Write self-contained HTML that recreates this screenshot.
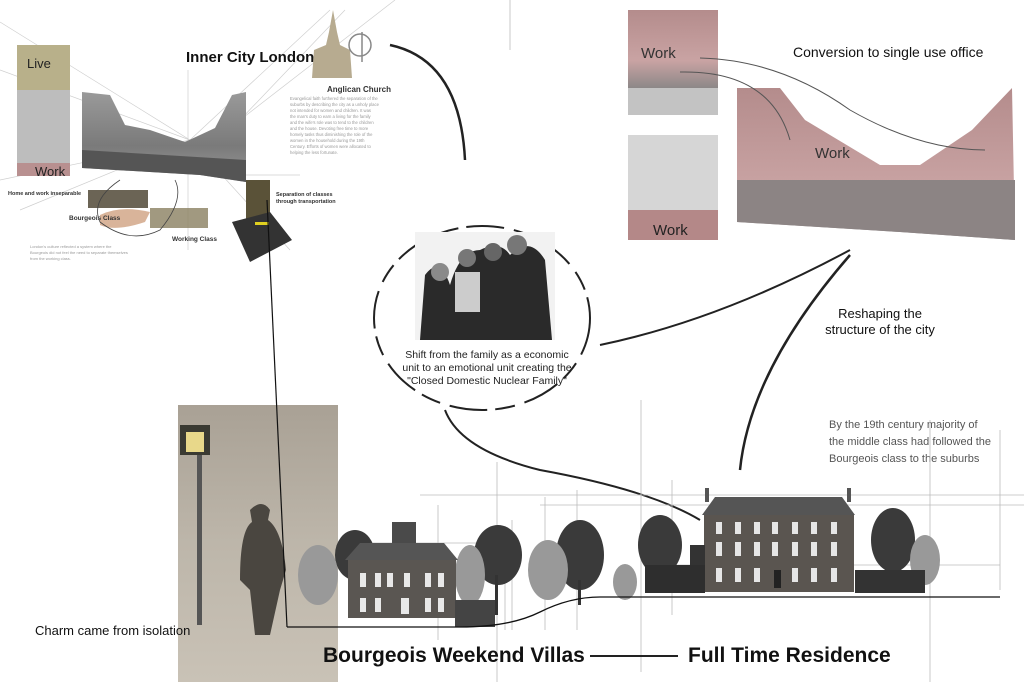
<!DOCTYPE html>
<html><head><meta charset="utf-8"><style>
html,body{margin:0;padding:0;background:#fff;width:1024px;height:682px;overflow:hidden}
svg{display:block}
text{font-family:"Liberation Sans",sans-serif}
</style></head><body>
<svg width="1024" height="682" viewBox="0 0 1024 682" xmlns="http://www.w3.org/2000/svg">
<defs>
<linearGradient id="fog" x1="0" y1="0" x2="0" y2="1"><stop offset="0" stop-color="#a9a195"/><stop offset="0.5" stop-color="#bdb6aa"/><stop offset="1" stop-color="#c9c2b6"/></linearGradient>
<linearGradient id="street" x1="0" y1="0" x2="0" y2="1"><stop offset="0" stop-color="#9a9a9a"/><stop offset="0.6" stop-color="#7a7a7a"/><stop offset="1" stop-color="#9a9a9a"/></linearGradient>
<linearGradient id="pink" x1="0" y1="0" x2="0" y2="1"><stop offset="0" stop-color="#b48c8c"/><stop offset="0.65" stop-color="#c9a3a3"/><stop offset="1" stop-color="#8c8888"/></linearGradient>
</defs>
<g stroke="#cfcfcf" stroke-width="0.7" fill="none">
<line x1="0" y1="22" x2="190" y2="140"/><line x1="0" y1="70" x2="190" y2="140"/><line x1="0" y1="180" x2="190" y2="140"/>
<line x1="330" y1="10" x2="190" y2="140"/><line x1="345" y1="10" x2="240" y2="120"/><line x1="190" y1="140" x2="290" y2="250"/>
<line x1="188" y1="70" x2="188" y2="250"/><line x1="240" y1="175" x2="300" y2="175"/>
<line x1="20" y1="210" x2="190" y2="140"/><line x1="395" y1="0" x2="240" y2="120"/>
</g>
<rect x="17" y="45" width="53" height="45" fill="#b8b08a"/>
<rect x="17" y="90" width="53" height="75" fill="#bdbdbd"/>
<rect x="17" y="163" width="53" height="13" fill="#b89090"/>
<text x="27" y="68" font-size="13" fill="#222">Live</text>
<text x="35" y="176" font-size="13" fill="#222">Work</text>
<path d="M82 92 L110 95 L125 125 L150 130 L185 142 L215 128 L232 95 L246 92 L246 182 L200 175 L150 172 L82 168Z" fill="url(#street)"/>
<path d="M82 150 L246 160 L246 182 L200 175 L150 172 L82 168Z" fill="#555"/>
<text x="186" y="62" font-size="15" font-weight="bold" fill="#111">Inner City London</text>
<path d="M333 10 L337 32 L340 45 L350 50 L352 78 L312 78 L314 50 L326 45 L329 32Z" fill="#b7ab90"/>
<circle cx="360" cy="45" r="11" fill="none" stroke="#888" stroke-width="1.5"/><line x1="362" y1="32" x2="362" y2="62" stroke="#888" stroke-width="1.5"/>
<text x="327" y="92" font-size="8" font-weight="bold" fill="#333">Anglican Church</text>
<g font-size="4.2" fill="#999"><text x="290" y="100">Evangelical faith furthered the separation of the</text><text x="290" y="106">suburbs by describing the city as a unholy place</text><text x="290" y="112">not intended for women and children. It was</text><text x="290" y="118">the man's duty to earn a living for the family</text><text x="290" y="124">and the wife's role was to tend to the children</text><text x="290" y="130">and the house. Devoting free time to more</text><text x="290" y="136">homely tasks thus diminishing the role of the</text><text x="290" y="142">women in the household during the 19th</text><text x="290" y="148">Century. Efforts of women were allocated to</text><text x="290" y="154">helping the less fortunate.</text></g>
<text x="8" y="195" font-size="5.5" font-weight="bold" fill="#333">Home and work inseparable</text>
<rect x="88" y="190" width="60" height="18" fill="#6b6455"/>
<path d="M100 215 Q120 205 150 212 L145 222 Q115 232 100 225Z" fill="#d9b49a"/>
<text x="69" y="220" font-size="6.5" font-weight="bold" fill="#333">Bourgeois Class</text>
<rect x="150" y="208" width="58" height="20" fill="#8a8060" opacity="0.8"/>
<text x="172" y="241" font-size="6.5" font-weight="bold" fill="#333">Working Class</text>
<g font-size="4" fill="#999"><text x="30" y="248">London's culture reflected a system where the</text><text x="30" y="254">Bourgeois did not feel the need to separate themselves</text><text x="30" y="260">from the working class.</text></g>
<rect x="246" y="180" width="24" height="40" fill="#5a5238"/>
<path d="M232 222 L270 212 L292 240 L250 262Z" fill="#333"/>
<rect x="255" y="222" width="14" height="3" fill="#e0d020"/>
<text x="276" y="196" font-size="5.5" font-weight="bold" fill="#333">Separation of classes</text>
<text x="276" y="203" font-size="5.5" font-weight="bold" fill="#333">through transportation</text>
<path d="M120 180 Q90 200 100 222 Q130 245 160 230 Q185 200 175 180" fill="none" stroke="#444" stroke-width="0.8"/>
<rect x="628" y="10" width="90" height="78" fill="url(#pink)"/>
<rect x="628" y="88" width="90" height="27" fill="#aaa" opacity="0.7"/>
<text x="641" y="58" font-size="15" fill="#333">Work</text>
<rect x="628" y="135" width="90" height="75" fill="#d6d6d6"/>
<rect x="628" y="210" width="90" height="30" fill="#b48888"/>
<text x="653" y="235" font-size="15" fill="#222">Work</text>
<path d="M737 88 L780 88 L805 120 L880 165 L920 165 L972 130 L1012 88 L1015 240 L900 232 L737 222Z" fill="url(#pink)"/>
<path d="M737 180 L1015 180 L1015 240 L900 232 L737 222Z" fill="#8c8484"/>
<text x="815" y="158" font-size="15" fill="#333">Work</text>
<path d="M700 58 Q780 60 850 110 Q920 150 985 150" fill="none" stroke="#555" stroke-width="1"/>
<path d="M680 72 Q770 70 790 140" fill="none" stroke="#555" stroke-width="1"/>
<text x="793" y="57" font-size="14" fill="#111">Conversion to single use office</text>
<ellipse cx="482" cy="318" rx="108" ry="92" fill="none" stroke="#222" stroke-width="2" stroke-dasharray="38 10 20 8"/>
<path d="M390 45 Q460 60 465 160" fill="none" stroke="#222" stroke-width="2.5"/>
<path d="M600 345 Q720 320 850 250" fill="none" stroke="#222" stroke-width="2"/>
<path d="M850 255 Q750 370 740 470" fill="none" stroke="#222" stroke-width="2.5"/>
<path d="M445 410 Q460 450 540 470 Q650 490 700 520" fill="none" stroke="#222" stroke-width="2"/>
<rect x="415" y="232" width="140" height="108" fill="#f2f2f2"/>
<path d="M420 340 L425 275 Q440 255 450 285 Q460 250 480 250 Q500 240 510 255 Q530 235 545 260 L552 340Z" fill="#2a2a2a"/>
<circle cx="440" cy="272" r="9" fill="#8a8a8a"/><circle cx="467" cy="258" r="9" fill="#777"/><circle cx="493" cy="252" r="9" fill="#666"/><circle cx="517" cy="245" r="10" fill="#777"/>
<rect x="455" y="272" width="25" height="40" fill="#ccc"/>
<g font-size="10.5" fill="#222" text-anchor="middle"><text x="487" y="358">Shift from the family as a economic</text><text x="487" y="371">unit to an emotional unit creating the</text><text x="487" y="384">"Closed Domestic Nuclear Family"</text></g>
<text x="880" y="318" font-size="13" fill="#111" text-anchor="middle">Reshaping the</text>
<text x="880" y="334" font-size="13" fill="#111" text-anchor="middle">structure of the city</text>
<g font-size="11" fill="#555"><text x="829" y="428">By the 19th century majority of</text><text x="829" y="445">the middle class had followed the</text><text x="829" y="462">Bourgeois class to the suburbs</text></g>
<g stroke="#bbb" stroke-width="0.8">
<line x1="270" y1="543" x2="478" y2="543"/><line x1="420" y1="565" x2="478" y2="565"/>
<line x1="420" y1="495" x2="1024" y2="495"/><line x1="540" y1="505" x2="1024" y2="505"/>
<line x1="645" y1="565" x2="1000" y2="565"/>
<line x1="300" y1="462" x2="300" y2="610"/><line x1="438" y1="505" x2="438" y2="640"/>
<line x1="497" y1="462" x2="497" y2="682"/><line x1="641" y1="400" x2="641" y2="672"/>
<line x1="512" y1="520" x2="512" y2="630"/><line x1="545" y1="497" x2="545" y2="630"/>
<line x1="577" y1="490" x2="577" y2="630"/><line x1="505" y1="575" x2="505" y2="630"/>
<line x1="672" y1="480" x2="672" y2="615"/><line x1="930" y1="420" x2="930" y2="682"/>
<line x1="318" y1="470" x2="318" y2="610"/><line x1="335" y1="520" x2="335" y2="600"/>
<line x1="1000" y1="430" x2="1000" y2="590"/><line x1="510" y1="0" x2="510" y2="50"/>
</g>
<rect x="178" y="405" width="160" height="277" fill="url(#fog)"/>
<rect x="180" y="425" width="30" height="30" fill="#3a3a32"/>
<rect x="186" y="432" width="18" height="20" fill="#e8d88a"/>
<rect x="197" y="455" width="5" height="170" fill="#555"/>
<path d="M250 510 Q262 498 270 510 L268 520 Q282 530 286 570 L280 590 L270 635 L255 635 L250 590 L240 580 Q240 530 252 522Z" fill="#4a4640"/>
<text x="35" y="635" font-size="13" fill="#111">Charm came from isolation</text>
<line x1="267" y1="200" x2="287" y2="627" stroke="#111" stroke-width="1.2"/>
<g fill="#3a3a3a">
<ellipse cx="355" cy="555" rx="20" ry="25"/><ellipse cx="498" cy="555" rx="24" ry="30"/><ellipse cx="580" cy="555" rx="24" ry="35"/><ellipse cx="660" cy="545" rx="22" ry="30"/><ellipse cx="893" cy="540" rx="22" ry="32"/>
</g>
<g fill="#999"><ellipse cx="318" cy="575" rx="20" ry="30"/><ellipse cx="470" cy="575" rx="15" ry="30"/><ellipse cx="548" cy="570" rx="20" ry="30"/><ellipse cx="625" cy="582" rx="12" ry="18"/><ellipse cx="925" cy="560" rx="15" ry="25"/></g>
<rect x="495" y="575" width="3" height="40" fill="#333"/><rect x="578" y="580" width="3" height="25" fill="#333"/>
<rect x="392" y="522" width="24" height="22" fill="#4a4a4a"/>
<path d="M345 560 L360 543 L444 543 L458 560Z" fill="#555"/>
<rect x="348" y="560" width="108" height="58" fill="#5a5652"/>
<g fill="#e8e8e8"><rect x="360" y="573" width="6" height="14"/><rect x="375" y="573" width="6" height="14"/><rect x="387" y="573" width="6" height="14"/><rect x="404" y="573" width="6" height="14"/><rect x="425" y="573" width="6" height="14"/><rect x="438" y="573" width="6" height="14"/>
<rect x="360" y="598" width="6" height="14"/><rect x="375" y="598" width="6" height="14"/><rect x="401" y="598" width="8" height="16"/><rect x="425" y="598" width="6" height="14"/><rect x="438" y="598" width="6" height="14"/></g>
<rect x="455" y="600" width="40" height="27" fill="#444"/>
<rect x="705" y="488" width="4" height="14" fill="#555"/><rect x="847" y="488" width="4" height="14" fill="#555"/>
<path d="M702 515 L715 497 L842 497 L855 515Z" fill="#555"/>
<rect x="704" y="515" width="150" height="77" fill="#5a5550"/>
<rect x="690" y="545" width="15" height="45" fill="#333"/><rect x="645" y="565" width="60" height="28" fill="#2e2e2e"/>
<rect x="855" y="570" width="70" height="23" fill="#333"/>
<g fill="#e6e6e6">
<rect x="716" y="522" width="6" height="12"/><rect x="735" y="522" width="6" height="12"/><rect x="754" y="522" width="6" height="12"/><rect x="772" y="522" width="6" height="12"/><rect x="792" y="522" width="6" height="12"/><rect x="811" y="522" width="6" height="12"/><rect x="831" y="522" width="6" height="12"/>
<rect x="716" y="542" width="6" height="14"/><rect x="735" y="542" width="6" height="14"/><rect x="754" y="542" width="6" height="14"/><rect x="772" y="542" width="6" height="14"/><rect x="792" y="542" width="6" height="14"/><rect x="811" y="542" width="6" height="14"/><rect x="831" y="542" width="6" height="14"/>
<rect x="716" y="568" width="6" height="14"/><rect x="735" y="568" width="6" height="14"/><rect x="754" y="568" width="6" height="14"/><rect x="792" y="568" width="6" height="14"/><rect x="811" y="568" width="6" height="14"/><rect x="831" y="568" width="6" height="14"/></g>
<rect x="774" y="570" width="7" height="18" fill="#222"/>
<path d="M287 627 L460 627 Q510 627 540 612 Q570 597 600 597 L1000 597" fill="none" stroke="#111" stroke-width="1.3"/>
<text x="323" y="662" font-size="21" font-weight="bold" fill="#111">Bourgeois Weekend Villas</text>
<line x1="590" y1="656" x2="678" y2="656" stroke="#222" stroke-width="2"/>
<text x="688" y="662" font-size="21" font-weight="bold" fill="#111">Full Time Residence</text>
</svg>
</body></html>
